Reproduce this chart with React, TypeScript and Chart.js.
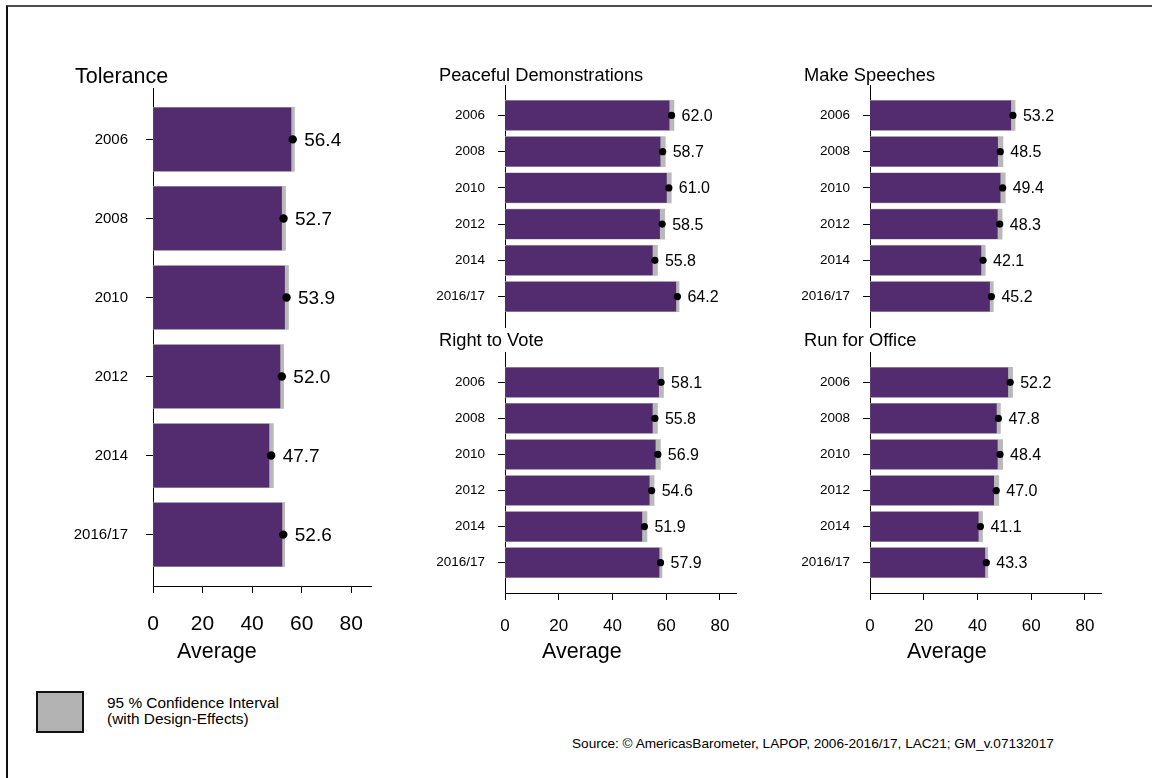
import React, { useEffect, useRef } from 'react';
import { Chart, registerables } from 'chart.js';

Chart.register(...registerables);

const FONT = "'Liberation Sans', Arial, Helvetica, sans-serif";

// ---- data ----
const years = ['2006', '2008', '2010', '2012', '2014', '2016/17'];
const xTicks = [0, 20, 40, 60, 80];

const tolerance = [56.4, 52.7, 53.9, 52.0, 47.7, 52.6];
const toleranceCI = [0.7, 0.8, 0.8, 0.75, 0.9, 0.55];

const demonstrations = [62.0, 58.7, 61.0, 58.5, 55.8, 64.2];
const demonstrationsCI = [0.9, 0.95, 0.9, 0.95, 0.95, 0.6];

const speeches = [53.2, 48.5, 49.4, 48.3, 42.1, 45.2];
const speechesCI = [0.8, 1.0, 0.95, 0.9, 0.8, 0.7];

const vote = [58.1, 55.8, 56.9, 54.6, 51.9, 57.9];
const voteCI = [0.9, 0.95, 0.95, 0.9, 0.95, 0.55];

const office = [52.2, 47.8, 48.4, 47.0, 41.1, 43.3];
const officeCI = [0.9, 0.75, 1.0, 0.95, 0.8, 0.55];

const PURPLE = '#522c6f';
const GREY = '#b9b9b9';

type Box = { left: number; top: number; right: number; bottom: number };
type PanelDef = {
  key: string;
  values: number[];
  ci: number[];
  box: Box;
  xMax: number;
  yPad: number;
  showX: boolean;
  big: boolean;
};

const panels: PanelDef[] = [
  { key: 'tol', values: tolerance, ci: toleranceCI, box: { left: 153, top: 88, right: 371, bottom: 586 }, xMax: 88, yPad: 0.65, showX: true, big: true },
  { key: 'dem', values: demonstrations, ci: demonstrationsCI, box: { left: 505, top: 85, right: 736, bottom: 327 }, xMax: 86, yPad: 0.84, showX: false, big: false },
  { key: 'spe', values: speeches, ci: speechesCI, box: { left: 870, top: 85, right: 1101, bottom: 327 }, xMax: 86, yPad: 0.84, showX: false, big: false },
  { key: 'vot', values: vote, ci: voteCI, box: { left: 505, top: 352, right: 736, bottom: 593 }, xMax: 86, yPad: 0.84, showX: true, big: false },
  { key: 'off', values: office, ci: officeCI, box: { left: 870, top: 352, right: 1101, bottom: 593 }, xMax: 86, yPad: 0.84, showX: true, big: false },
];

function geom(p: PanelDef) {
  const W = p.big ? 100 : 85;
  const padT = 32;
  const padR = 30;
  const padB = p.showX ? 10 : 32;
  const H = p.showX ? (p.big ? 52 : 45) : 0;
  const left = p.box.left - W;
  const top = p.box.top - padT;
  const width = W + (p.box.right - p.box.left) + padR;
  const height = padT + (p.box.bottom - p.box.top) + H + padB;
  return { W, padT, padR, padB, H, left, top, width, height };
}

function PanelChart({ p }: { p: PanelDef }) {
  const ref = useRef<HTMLCanvasElement | null>(null);
  const g = geom(p);
  useEffect(() => {
    if (!ref.current) return;
    const big = p.big;
    const labelSize = big ? 19 : 16;
    const labelOff = big ? 11.5 : 10;
    const idx = years.map((_, i) => i);
    const valueLabels = {
      id: 'valueLabels',
      afterDatasetsDraw(chart: any) {
        const meta = chart.getDatasetMeta(2);
        const ctx = chart.ctx;
        ctx.save();
        ctx.font = `${labelSize}px ${FONT}`;
        ctx.fillStyle = '#000';
        ctx.textAlign = 'left';
        ctx.textBaseline = 'middle';
        meta.data.forEach((el: any, i: number) => {
          ctx.fillText(p.values[i].toFixed(1), el.x + labelOff, el.y + 1);
        });
        ctx.restore();
      },
    };
    const chart = new Chart(ref.current, {
      type: 'bar',
      data: {
        datasets: [
          {
            type: 'bar',
            data: p.values.map((v, i) => ({ x: v + p.ci[i], y: i })),
            backgroundColor: GREY,
            borderWidth: 0,
            barThickness: big ? 64 : 30,
            grouped: false,
            order: 2,
          } as any,
          {
            type: 'bar',
            data: p.values.map((v, i) => ({ x: v - p.ci[i], y: i })),
            backgroundColor: PURPLE,
            borderWidth: 0,
            barThickness: big ? 63 : 29,
            grouped: false,
            order: 1,
          } as any,
          {
            type: 'scatter',
            data: p.values.map((v, i) => ({ x: v, y: i })),
            pointRadius: big ? 4.2 : 3.6,
            pointBackgroundColor: '#000',
            pointBorderWidth: 0,
            showLine: false,
            order: 0,
          } as any,
        ],
      },
      options: {
        indexAxis: 'y',
        animation: false,
        responsive: false,
        events: [],
        layout: { padding: { left: 0, top: g.padT, right: g.padR, bottom: g.padB } },
        plugins: { legend: { display: false }, tooltip: { enabled: false }, title: { display: false } },
        scales: {
          x: {
            type: 'linear',
            display: p.showX,
            min: 0,
            max: p.xMax,
            bounds: 'data',
            offset: false,
            position: 'bottom',
            afterBuildTicks: (s: any) => {
              s.ticks = xTicks.map((v) => ({ value: v }));
            },
            afterFit: (s: any) => {
              s.height = g.H;
            },
            ticks: {
              color: '#000',
              font: { family: FONT, size: big ? 21 : 17 },
              padding: big ? 19 : 16,
              autoSkip: false,
              maxRotation: 0,
              callback: (v: any) => String(v),
            },
            grid: { offset: false, drawOnChartArea: false, drawTicks: true, tickLength: 7, color: '#000', tickColor: '#000', tickWidth: 1 },
            border: { display: true, color: '#000', width: 1 },
          },
          y: {
            type: 'linear',
            reverse: true,
            min: -p.yPad,
            max: years.length - 1 + p.yPad,
            bounds: 'data',
            offset: false,
            position: 'left',
            afterBuildTicks: (s: any) => {
              s.ticks = idx.map((v) => ({ value: v }));
            },
            afterFit: (s: any) => {
              s.width = g.W;
            },
            ticks: {
              color: '#000',
              font: { family: FONT, size: big ? 15 : 13.5 },
              padding: big ? 18 : 13,
              autoSkip: false,
              callback: (v: any) => years[v as number] ?? '',
            },
            grid: { offset: false, drawOnChartArea: false, drawTicks: true, tickLength: 7, color: '#000', tickColor: '#000', tickWidth: 1 },
            border: { display: true, color: '#000', width: 1 },
          },
        },
      } as any,
      plugins: [valueLabels],
    });
    return () => chart.destroy();
  }, []);
  return (
    <canvas
      ref={ref}
      width={g.width}
      height={g.height}
      style={{ position: 'absolute', left: g.left, top: g.top, width: g.width, height: g.height }}
    />
  );
}

function Txt({ left, cy, size, children, lh }: { left: number; cy: number; size: number; children: React.ReactNode; lh?: number }) {
  const lineH = lh ?? size;
  return (
    <div
      style={{
        position: 'absolute',
        left,
        top: cy - lineH / 2,
        fontSize: size,
        lineHeight: `${lineH}px`,
        fontFamily: FONT,
        color: '#000',
        whiteSpace: 'nowrap',
      }}
    >
      {children}
    </div>
  );
}

export default function App() {
  return (
    <div
      style={{
        position: 'absolute',
        left: 0,
        top: 0,
        width: 1152,
        height: 778,
        overflow: 'hidden',
        background: '#fff',
      }}
    >
      <div
        style={{
          position: 'absolute',
          left: 6,
          top: 5,
          width: 1300,
          height: 1000,
          borderTop: '2px solid #4d4d4d',
          borderLeft: '2px solid #111',
        }}
      />
      {panels.map((p) => (
        <PanelChart key={p.key} p={p} />
      ))}
      <Txt left={75} cy={77} size={21.5}>Tolerance</Txt>
      <Txt left={439} cy={75} size={18.3}>Peaceful Demonstrations</Txt>
      <Txt left={804} cy={75} size={18.3}>Make Speeches</Txt>
      <Txt left={439} cy={340} size={18.3}>Right to Vote</Txt>
      <Txt left={804} cy={340} size={18.3}>Run for Office</Txt>
      <Txt left={177} cy={652} size={21.5}>Average</Txt>
      <Txt left={542} cy={652} size={21.5}>Average</Txt>
      <Txt left={907} cy={652} size={21.5}>Average</Txt>
      <div
        style={{
          position: 'absolute',
          left: 36,
          top: 691,
          width: 44,
          height: 38,
          background: '#b3b3b3',
          border: '2px solid #111',
        }}
      />
      <Txt left={107} cy={703} size={15.4} lh={16}>95 % Confidence Interval</Txt>
      <Txt left={107} cy={719} size={15.4} lh={16}>(with Design-Effects)</Txt>
      <Txt left={572} cy={744} size={13.6}>Source: © AmericasBarometer, LAPOP, 2006-2016/17, LAC21; GM_v.07132017</Txt>
    </div>
  );
}
